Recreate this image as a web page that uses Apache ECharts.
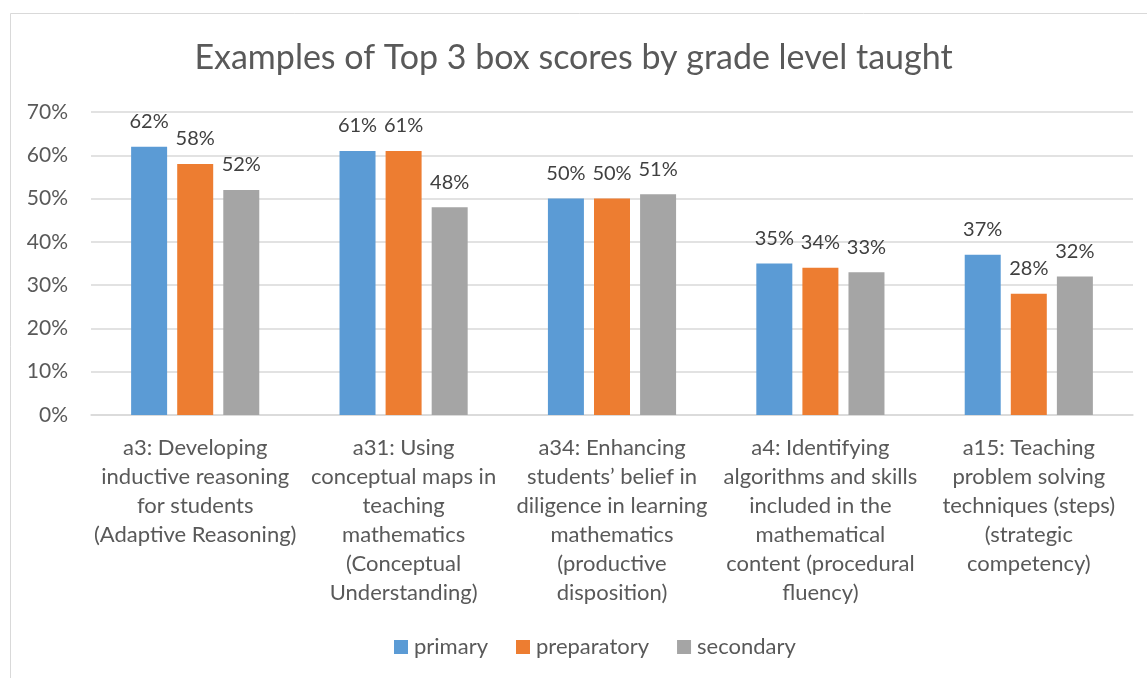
<!DOCTYPE html>
<html>
<head>
<meta charset="utf-8">
<script src="https://cdn.jsdelivr.net/npm/echarts@6/dist/echarts.min.js"></script>
<style>
  html, body { margin: 0; padding: 0; background: #fff; }
  #chart { width: 1147px; height: 678px; }
</style>
</head>
<body>
<div id="chart"></div>
<script>
// Categories (x axis)
const categories = [
    'a3: Developing\ninductive reasoning\nfor students\n(Adaptive Reasoning)',
    'a31: Using\nconceptual maps in\nteaching\nmathematics\n(Conceptual\nUnderstanding)',
    'a34: Enhancing\nstudents\u2019 belief in\ndiligence in learning\nmathematics\n(productive\ndisposition)',
    'a4: Identifying\nalgorithms and skills\nincluded in the\nmathematical\ncontent (procedural\nfluency)',
    'a15: Teaching\nproblem solving\ntechniques (steps)\n(strategic\ncompetency)'
];

// Series values (percent)
const primary = [62, 61, 50, 35, 37];
const preparatory = [58, 61, 50, 34, 28];
const secondary = [52, 48, 51, 33, 32];

const seriesNames = ['primary', 'preparatory', 'secondary'];
const colors = ['#5b9bd5', '#ed7d31', '#a5a5a5'];

const font = 'Lato, "Open Sans", sans-serif';
const chart = echarts.init(document.getElementById('chart'));

const makeSeries = (name, data, color) => ({
    name: name,
    type: 'bar',
    data: data,
    barWidth: 36,
    barGap: '28%',
    itemStyle: { color: color },
    label: {
        show: true,
        position: 'top',
        distance: 15,
        formatter: '{c}%',
        color: '#404040',
        fontSize: 20,
        fontFamily: font
    }
});

chart.setOption({
    backgroundColor: '#fff',
    animation: false,
    graphic: [{
        type: 'rect',
        shape: { x: 10.5, y: 13.5, width: 1150, height: 680 },
        style: { fill: 'none', stroke: '#d9d9d9', lineWidth: 1 },
        silent: true
    }],
    title: {
        text: 'Examples of Top 3 box scores by grade level taught',
        left: 'center',
        top: 36,
        textStyle: { color: '#595959', fontSize: 34, fontWeight: 'normal', fontFamily: font }
    },
    legend: {
        data: seriesNames,
        bottom: 15,
        left: 389,
        itemWidth: 14,
        itemHeight: 14,
        itemGap: 28,
        icon: 'rect',
        textStyle: { color: '#595959', fontSize: 22, fontFamily: font, padding: [0, 0, 0, 1] }
    },
    grid: { left: 91, right: 14, top: 112, bottom: 263 },
    xAxis: {
        type: 'category',
        data: categories,
        axisLine: { lineStyle: { color: '#d9d9d9', width: 1.5 } },
        axisTick: { show: false },
        axisLabel: {
            interval: 0,
            margin: 18,
            color: '#595959',
            fontSize: 22,
            lineHeight: 29,
            fontFamily: font
        }
    },
    yAxis: {
        type: 'value',
        min: 0,
        max: 70,
        interval: 10,
        axisLine: { show: false },
        axisTick: { show: false },
        splitLine: { lineStyle: { color: '#d9d9d9', width: 1.5 } },
        axisLabel: {
            formatter: '{value}%',
            margin: 23,
            color: '#595959',
            fontSize: 21,
            fontFamily: font
        }
    },
    series: [
        makeSeries(seriesNames[0], primary, colors[0]),
        makeSeries(seriesNames[1], preparatory, colors[1]),
        makeSeries(seriesNames[2], secondary, colors[2])
    ]
});
</script>
</body>
</html>
